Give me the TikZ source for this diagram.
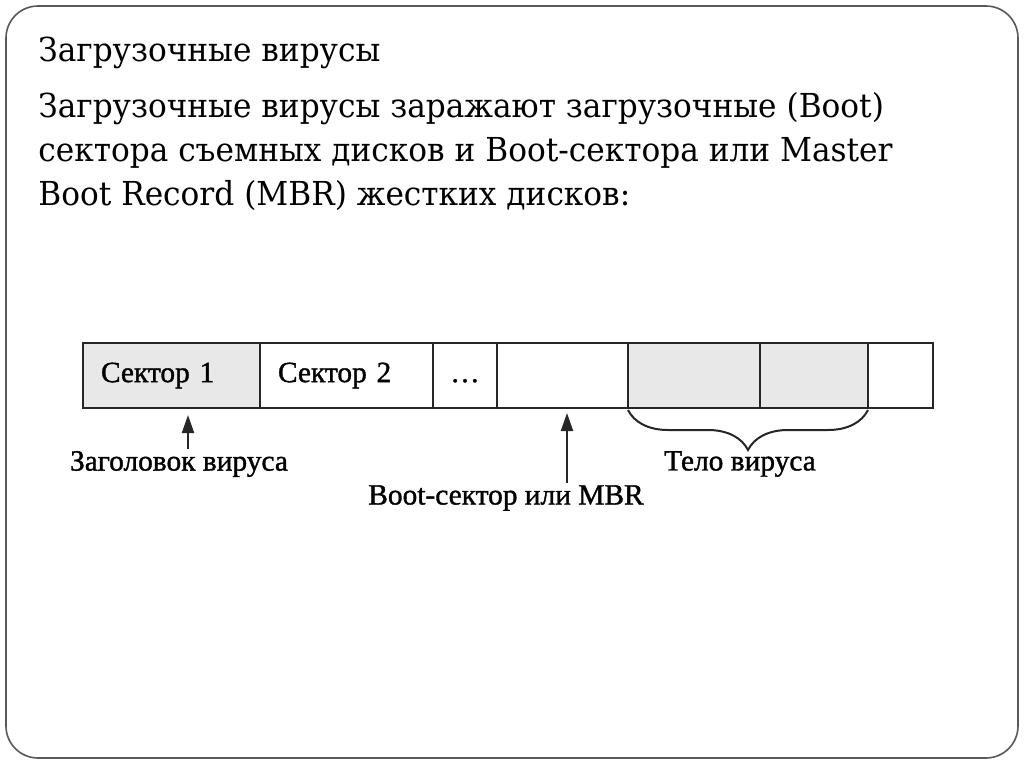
\documentclass[tikz,border=0pt]{standalone}
\usepackage{fontspec}
\setmainfont{Liberation Serif}
\newfontfamily\slidefont{DejaVu Serif}[FakeStretch=0.945]
\newfontfamily\scanfont{Liberation Serif}[FakeBold=1.2]
\usetikzlibrary{positioning,arrows.meta,decorations.pathreplacing}
\tikzset{
  cell/.style={draw=black!85,line width=0.9pt,minimum height=32.5pt,inner sep=0pt,outer sep=0pt,font=\scanfont\fontsize{14.7}{17}\selectfont},
  vir/.style={cell,fill=black!9},
  lbl/.style={font=\scanfont\fontsize{14.7}{17}\selectfont,inner sep=1pt},
  ptr/.style={-{Triangle[length=9pt,width=6pt]},line width=1pt,black!85},
  slide/.style={anchor=base west,inner sep=0pt,font=\slidefont\fontsize{16.5}{20}\selectfont},
}
\begin{document}
\begin{tikzpicture}[x=0.5pt,y=-0.5pt]
  \useasboundingbox (0,0) rectangle (1024,767);
  % slide frame
  \draw[black!65,line width=0.8pt,rounded corners=16pt] (6,6) rectangle (1018,758);
  % ---- slide text ----
  \node[slide] (t0) at (38,61) {Загрузочные вирусы};
  \node[slide] (t1) at (38,117) {Загрузочные вирусы заражают загрузочные (Boot)};
  \node[slide] (t2) at (38,161) {сектора съемных дисков и Boot-сектора или Master};
  \node[slide] (t3) at (38,205) {Boot Record (MBR) жестких дисков:};
  % ---- the disk, sector by sector ----
  \node[vir,anchor=north west,text width=70.5pt,inner xsep=9pt,align=left] (s1) at (83,343) {Сектор 1};
  \node[cell,right=0pt of s1,text width=68.5pt,inner xsep=9pt,align=left] (s2) {Сектор 2};
  \node[cell,right=0pt of s2,minimum width=32pt] (s3) {\vphantom{Сектор}\dots};
  \node[cell,right=0pt of s3,minimum width=65.5pt] (s4) {};
  \node[vir,right=0pt of s4,minimum width=66pt] (s5) {};
  \node[vir,right=0pt of s5,minimum width=54pt] (s6) {};
  \node[cell,right=0pt of s6,minimum width=32.5pt] (s7) {};
  % ---- labels ----
  \node[lbl] (hdr) at (179,464) {Заголовок вируса};
  \node[lbl] (boot) at (506,498) {Boot-сектор или MBR};
  \node[lbl] (body) at (740,464) {Тело вируса};
  \coordinate (hdrtip) at (188,415);
  \coordinate (boottip) at (567,413);
  \draw[ptr] (hdrtip |- hdr.north) -- (hdrtip);
  \draw[ptr] (boottip |- boot.north) -- (boottip);
  \draw[decorate,decoration={brace,mirror,amplitude=20pt,raise=1pt},line width=1pt,black!85] (s5.south west) -- (s6.south east);
\end{tikzpicture}
\end{document}
